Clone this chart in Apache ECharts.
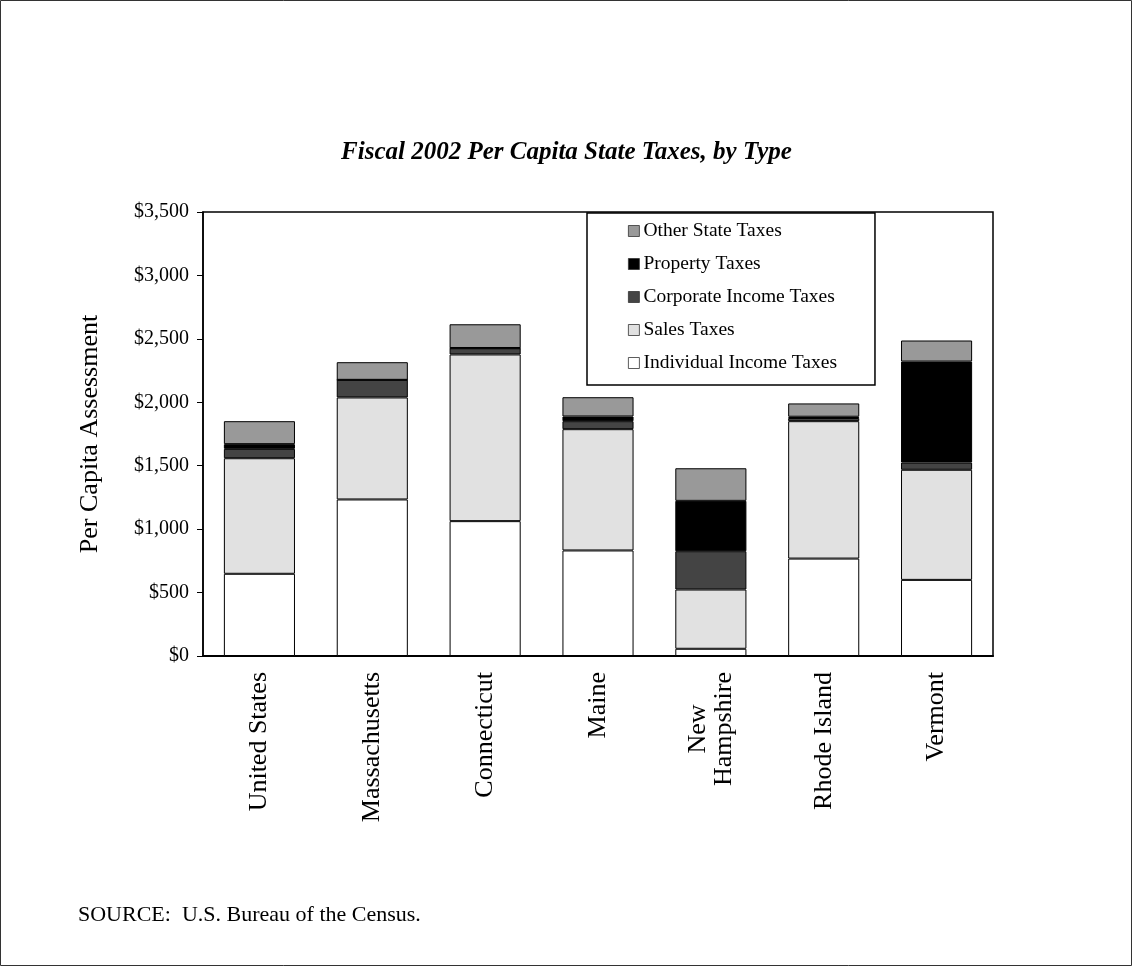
<!DOCTYPE html>
<html>
<head>
<meta charset="utf-8">
<script src="https://cdn.jsdelivr.net/npm/echarts@6/dist/echarts.min.js"></script>
<style>
  html, body { margin: 0; padding: 0; background: #fff; }
  #chart { width: 1133px; height: 967px; }
</style>
</head>
<body>
<div id="chart"></div>
<script>
// Per capita state tax collections, fiscal 2002 (dollars per resident)
const states = ['United States', 'Massachusetts', 'Connecticut', 'Maine', 'New\nHampshire', 'Rhode Island', 'Vermont'];
const individualIncome = [648, 1234, 1063, 832, 57, 768, 600];
const salesTaxes       = [911, 804, 1314, 956, 467, 1083, 868];
const corporateIncome  = [74, 139, 49, 63, 302, 25, 57];
const propertyTaxes    = [37, 0, 2, 37, 397, 10, 796];
const otherTaxes       = [181, 139, 187, 152, 257, 105, 166];
const yTicks = { min: 0, max: 3500, interval: 500 };

const serif = '"Liberation Serif", "Times New Roman", serif';

function bar(name, data, color) {
  return {
    name: name,
    type: 'bar',
    stack: 'total',
    data: data,
    barWidth: '63%',
    itemStyle: { color: color, borderColor: '#000', borderWidth: 1 },
    emphasis: { disabled: true }
  };
}

const chart = echarts.init(document.getElementById('chart'));
chart.setOption({
  animation: false,
  backgroundColor: '#fff',
  title: {
    text: 'Fiscal 2002 Per Capita State Taxes, by Type',
    left: 'center',
    top: 135,
    textStyle: { fontFamily: serif, fontSize: 25, fontWeight: 'bold', fontStyle: 'italic', color: '#000' }
  },
  grid: {
    left: 203, right: 140, top: 212, bottom: 311,
    show: true, borderColor: '#000', borderWidth: 1.5, backgroundColor: 'transparent'
  },
  legend: {
    orient: 'vertical',
    left: 587,
    top: 213,
    padding: [8, 38, 12, 41],
    itemGap: 13,
    itemWidth: 11,
    itemHeight: 11,
    icon: 'rect',
    borderColor: '#000',
    borderWidth: 1.5,
    backgroundColor: '#fff',
    itemStyle: { borderColor: '#333', borderWidth: 0.8 },
    data: ['Other State Taxes', 'Property Taxes', 'Corporate Income Taxes', 'Sales Taxes', 'Individual Income Taxes'],
    textStyle: { fontFamily: serif, fontSize: 19.5, lineHeight: 20, color: '#000', padding: [0, 0, 0, -1] }
  },
  xAxis: {
    type: 'category',
    data: states,
    axisLine: { lineStyle: { color: '#000', width: 2 } },
    axisTick: { show: false },
    axisLabel: {
      rotate: 90,
      interval: 0,
      margin: 16,
      color: '#000',
      formatter: v => v.split('\n').map(s => '{c|' + s + '}').join('\n'),
      rich: {
        c: { fontFamily: serif, fontSize: 26, lineHeight: 26, align: 'center', color: '#000' }
      }
    }
  },
  yAxis: {
    type: 'value',
    min: yTicks.min,
    max: yTicks.max,
    interval: yTicks.interval,
    name: 'Per Capita Assessment',
    nameLocation: 'middle',
    nameRotate: 90,
    nameGap: 100,
    nameTextStyle: { fontFamily: serif, fontSize: 26, color: '#000' },
    splitLine: { show: false },
    axisLine: { show: true, lineStyle: { color: '#000', width: 1.5 } },
    axisTick: { show: true, length: 6, lineStyle: { color: '#000' } },
    axisLabel: {
      margin: 14,
      fontFamily: serif,
      fontSize: 20,
      color: '#000',
      formatter: v => '$' + v.toLocaleString('en-US')
    }
  },
  series: [
    bar('Individual Income Taxes', individualIncome, '#ffffff'),
    bar('Sales Taxes', salesTaxes, '#e1e1e1'),
    bar('Corporate Income Taxes', corporateIncome, '#444444'),
    bar('Property Taxes', propertyTaxes, '#000000'),
    bar('Other State Taxes', otherTaxes, '#999999')
  ],
  graphic: [
    {
      type: 'rect',
      silent: true,
      shape: { x: 0.5, y: 0.5, width: 1131, height: 965 },
      style: { fill: 'none', stroke: '#333', lineWidth: 1 }
    },
    {
      type: 'text',
      left: 78,
      top: 904,
      style: { text: 'SOURCE:  U.S. Bureau of the Census.', font: '22px ' + serif, fill: '#000' }
    }
  ]
});
</script>
</body>
</html>
